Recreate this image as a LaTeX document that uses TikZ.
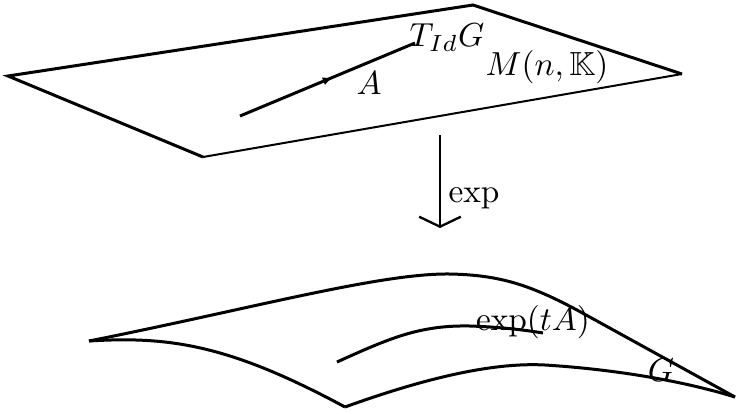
\documentclass[tikz,border=0pt]{standalone}
\usepackage{amssymb}
\usetikzlibrary{arrows.meta,decorations.markings}
\begin{document}
\begin{tikzpicture}[x=0.3pt,y=-0.3pt,
  edge/.style={line width=0.9pt,line join=miter},
  thinedge/.style={line width=0.6pt},
  lbl/.style={inner sep=0pt,font=\normalsize}]
\useasboundingbox (0,0) rectangle (736,413);
% top plane
\coordinate (pl) at (8,76);
\coordinate (pt) at (473,5);
\coordinate (pr) at (682,74);
\coordinate (pb) at (203,157);
\draw[edge] (pb) -- (pl) -- (pt) -- (pr);
\draw[thinedge] (pr) -- (pb);
% tangent vector
\coordinate (va) at (240,116);
\coordinate (vb) at (415,43);
\draw[line width=0.9pt,postaction={decorate},
  decoration={markings,mark=at position 0.53 with {\arrow{Latex[length=3pt,width=2.5pt]}}}]
  (va) -- (vb);
\node[lbl] (A) at (369,83) {$A$};
\node[lbl] (T) at (447,38) {$T_{Id}G$};
\node[lbl] (M) at (547,67) {$M(n,\mathbb{K})$};
% exp arrow
\coordinate (e1) at (440,135);
\coordinate (e2) at (440,228);
\draw[line width=0.7pt,-{Straight Barb[length=3pt,width=12.5pt]}] (e1) -- (e2);
\node[lbl] (exp) at (474,199) {$\exp$};
% lower surface
\coordinate (sl) at (89,341);
\coordinate (sb) at (345,407);
\coordinate (sr) at (735,397);
\draw[edge] (sl) .. controls (250,309) and (380,273) .. (450,274)
  .. controls (500,275) and (530,285) .. (577,310) -- (sr);
\draw[edge] (sl) .. controls (170,336) and (230,345) .. (sb);
\draw[edge] (sb) .. controls (420,380) and (490,362) .. (545,365)
  .. controls (610,369) and (680,380) .. (sr);
% curve exp(tA)
\coordinate (c1) at (337,362);
\coordinate (c2) at (543,333);
\draw[edge] (c1) .. controls (390,338) and (420,325) .. (470,326) .. controls (500,327) and (525,330) .. (c2);
\node[lbl] (etA) at (533,322) {$\exp(tA)$};
\node[lbl] (G) at (661,370) {$G$};
\end{tikzpicture}
\end{document}
